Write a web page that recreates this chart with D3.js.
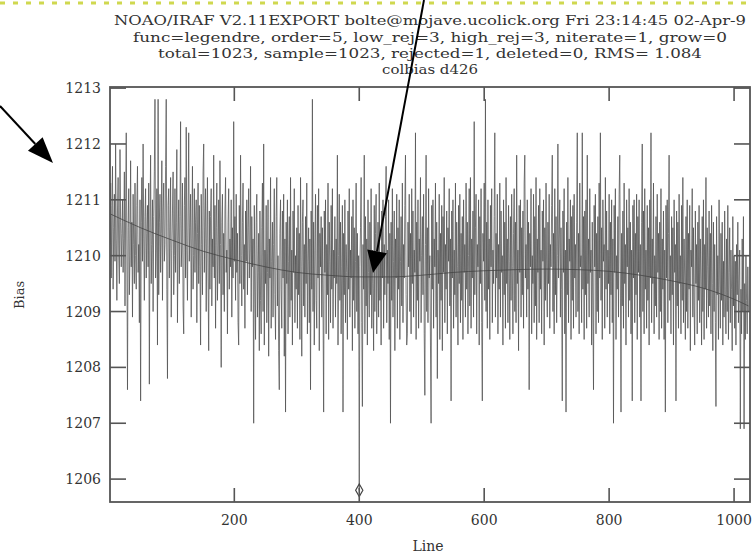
<!DOCTYPE html>
<html>
<head>
<meta charset="utf-8">
<script src="https://cdn.jsdelivr.net/npm/d3@7"></script>
<style>
  html, body { margin: 0; padding: 0; background: #fff; }
  svg { display: block; }
  text { font-family: "DejaVu Serif", "Liberation Serif", serif; fill: #333; }
</style>
</head>
<body>
<svg id="chart" width="754" height="557"></svg>
<script>
// colbias d426: overscan bias level per line, with the legendre fit
const titleLines = [
  "NOAO/IRAF V2.11EXPORT bolte@mojave.ucolick.org Fri 23:14:45 02-Apr-9",
  "func=legendre, order=5, low_rej=3, high_rej=3, niterate=1, grow=0",
  "total=1023, sample=1023, rejected=1, deleted=0, RMS=  1.084",
  "colbias d426"
];
const xTicks = [200, 400, 600, 800, 1000];
const yTicks = [1206, 1207, 1208, 1209, 1210, 1211, 1212, 1213];
const xLabel = "Line";
const yLabel = "Bias";

// bias value of each line, lines 1..1023
const bias = [
1210.2,1211.3,1209.6,1210.9,1211.6,1209.4,1210.5,1211.1,1209.9,1212.0,1210.3,1209.2,1210.8,1211.4,1210.0,1209.5,1211.9,1210.6,1209.8,1210.4,
1211.0,1209.7,1210.3,1211.5,1209.1,1210.8,1212.2,1210.1,1207.6,1210.5,1211.2,1209.3,1210.0,1211.7,1209.8,1210.6,1208.9,1211.1,1210.2,1209.5,
1211.3,1210.0,1209.4,1210.9,1211.6,1209.7,1210.2,1208.8,1211.0,1207.4,1210.6,1211.4,1209.9,1212.0,1210.3,1209.2,1210.7,1211.2,1209.6,1210.4,
1210.9,1209.8,1211.3,1207.7,1210.5,1211.8,1209.5,1210.2,1211.0,1209.0,1210.7,1211.5,1212.8,1209.6,1210.1,1211.2,1208.4,1212.8,1209.3,1210.6,
1211.1,1209.7,1210.4,1211.7,1209.2,1210.8,1211.3,1209.9,1210.2,1211.6,1212.8,1209.4,1207.8,1210.9,1211.2,1209.6,1210.5,1211.4,1208.9,1210.1,
1210.8,1211.5,1209.3,1210.0,1211.2,1209.7,1210.6,1211.9,1208.8,1210.3,1211.0,1209.5,1210.7,1212.4,1209.8,1210.2,1211.3,1209.1,1208.6,1210.9,
1211.4,1209.6,1212.3,1210.1,1209.2,1210.8,1212.2,1209.9,1210.5,1211.1,1208.9,1210.3,1211.6,1209.4,1210.0,1211.2,1209.7,1210.6,1211.0,1208.8,
1210.4,1211.3,1209.5,1210.9,1209.8,1208.4,1211.1,1210.2,1209.3,1211.5,1212.0,1209.7,1210.6,1211.2,1209.0,1210.3,1211.4,1209.6,1208.3,1210.8,
1209.4,1210.7,1211.2,1209.1,1210.3,1209.8,1211.8,1209.6,1210.9,1208.7,1210.5,1211.3,1209.2,1210.0,1211.0,1209.5,1211.7,1210.2,1208.0,1210.6,
1211.1,1209.3,1210.4,1209.0,1210.8,1211.4,1209.7,1210.1,1208.6,1210.6,1211.2,1209.4,1210.3,1209.8,1211.0,1208.9,1210.5,1209.6,1212.4,1209.9,
1210.7,1209.2,1211.1,1209.7,1210.4,1208.8,1208.4,1210.9,1209.5,1211.8,1210.0,1209.1,1210.6,1211.3,1209.4,1210.2,1208.7,1210.8,1209.9,1211.0,
1209.3,1210.5,1211.2,1209.6,1210.1,1211.6,1209.0,1210.7,1209.8,1210.3,1207.0,1210.9,1209.4,1208.5,1210.6,1211.1,1208.9,1209.7,1210.4,1208.3,
1210.8,1209.2,1208.6,1210.5,1211.3,1209.0,1212.0,1208.4,1210.1,1209.5,1210.9,1208.8,1209.7,1211.0,1208.2,1210.3,1209.6,1211.4,1208.7,1209.9,
1210.6,1208.9,1210.2,1211.2,1209.3,1208.5,1210.7,1211.4,1209.1,1210.0,1208.3,1207.6,1210.4,1211.0,1209.4,1208.7,1210.8,1209.6,1211.1,1208.2,
1210.3,1207.2,1210.6,1209.5,1211.0,1208.6,1209.9,1210.7,1208.9,1211.4,1209.2,1210.1,1208.4,1210.8,1209.7,1211.2,1208.8,1210.0,1209.4,1210.5,
1208.7,1210.9,1209.3,1210.4,1208.5,1211.4,1209.8,1208.2,1210.6,1211.0,1209.1,1210.2,1208.9,1210.7,1209.5,1211.3,1208.6,1209.9,1210.5,1208.8,
1210.3,1207.6,1210.8,1209.4,1212.8,1209.0,1210.6,1208.4,1210.1,1211.1,1209.2,1208.7,1210.9,1209.6,1211.2,1208.3,1210.4,1209.8,1210.7,1208.9,
1210.5,1209.1,1207.2,1210.8,1209.7,1211.0,1208.6,1210.2,1209.3,1211.3,1208.5,1210.6,1209.9,1208.8,1210.9,1209.4,1211.2,1208.7,1210.1,1209.6,
1210.7,1208.9,1210.3,1209.5,1211.8,1208.4,1210.0,1211.1,1209.2,1210.6,1208.6,1209.8,1210.9,1207.2,1210.4,1209.3,1211.0,1208.8,1210.2,1209.7,
1208.5,1210.8,1209.4,1211.2,1208.9,1210.1,1209.6,1210.7,1208.3,1211.0,1209.2,1210.5,1208.7,1209.9,1211.3,1209.0,1210.4,1208.6,1210.0,1205.8,
1209.8,1210.5,1211.4,1208.8,1207.3,1210.2,1209.4,1211.8,1208.6,1210.7,1209.1,1210.3,1208.4,1211.0,1209.7,1208.9,1210.6,1209.3,1211.2,1208.7,
1210.1,1209.5,1208.3,1210.9,1209.0,1210.4,1211.1,1208.6,1209.8,1210.6,1208.9,1211.3,1209.2,1210.0,1208.4,1210.8,1209.6,1211.0,1208.7,1210.2,
1209.3,1210.7,1211.6,1208.8,1210.1,1209.5,1211.0,1208.5,1210.4,1207.0,1210.6,1209.2,1211.2,1208.9,1209.9,1210.8,1208.3,1210.3,1209.6,1211.1,
1208.7,1210.5,1209.4,1211.0,1208.5,1209.9,1210.7,1209.1,1211.3,1208.8,1210.2,1209.6,1210.9,1211.8,1209.3,1208.4,1208.6,1210.6,1209.8,1211.1,
1209.0,1210.4,1208.6,1211.2,1209.5,1210.8,1208.9,1210.1,1209.7,1212.2,1208.5,1210.6,1209.2,1211.0,1208.7,1210.3,1209.9,1211.4,1208.8,1210.0,
1210.7,1209.3,1211.1,1208.6,1207.5,1210.2,1211.8,1209.0,1210.5,1208.8,1211.2,1209.6,1210.0,1208.4,1207.0,1210.9,1209.4,1211.0,1208.7,1210.3,
1209.8,1211.3,1208.9,1210.6,1207.8,1210.1,1209.5,1211.1,1208.5,1210.4,1209.2,1210.9,1208.3,1210.7,1209.7,1211.4,1208.8,1210.2,1209.4,1210.8,
1208.6,1210.5,1209.9,1211.2,1209.1,1210.3,1207.4,1210.8,1209.6,1211.0,1208.7,1210.1,1209.3,1211.3,1208.9,1210.6,1209.8,1208.4,1210.9,1209.5,
1211.1,1208.8,1210.4,1209.2,1210.7,1208.5,1211.0,1209.7,1210.2,1208.9,1211.3,1209.4,1210.6,1208.6,1210.0,1211.2,1209.1,1211.4,1208.7,1210.3,
1209.6,1210.8,1208.9,1212.4,1209.3,1210.5,1211.1,1208.6,1210.2,1209.8,1211.0,1208.4,1210.7,1209.5,1211.2,1208.8,1207.4,1210.4,1209.9,1211.3,
1209.2,1212.8,1209.0,1210.6,1208.7,1211.0,1209.4,1210.3,1208.5,1210.9,1209.8,1211.2,1208.8,1210.1,1209.5,1210.7,1212.2,1208.9,1210.4,1209.6,
1211.1,1208.6,1210.2,1209.4,1211.3,1208.9,1210.8,1209.7,1210.0,1208.4,1211.0,1209.3,1210.6,1208.7,1211.4,1209.5,1210.3,1208.8,1210.9,1209.9,
1208.5,1210.7,1209.2,1211.1,1209.8,1208.6,1210.4,1211.2,1209.0,1210.6,1208.8,1211.8,1209.5,1210.1,1208.3,1210.9,1209.7,1211.0,1208.9,1210.5,
1209.3,1210.8,1208.7,1211.3,1211.8,1209.6,1210.2,1208.9,1211.0,1209.4,1210.6,1207.6,1210.4,1209.8,1211.2,1208.6,1210.0,1209.5,1211.1,1208.8,
1210.7,1209.1,1211.4,1208.5,1210.3,1209.7,1210.9,1208.8,1211.2,1209.4,1210.1,1208.6,1210.8,1209.9,1211.0,1208.4,1210.5,1209.2,1211.3,1209.6,
1208.9,1210.6,1209.5,1211.1,1208.7,1210.2,1209.8,1210.9,1211.8,1209.0,1210.4,1208.6,1211.2,1209.3,1210.7,1208.8,1210.0,1212.0,1209.6,1210.3,
1211.0,1208.9,1210.5,1209.4,1207.4,1210.8,1209.7,1211.2,1208.6,1210.1,1207.2,1210.6,1209.3,1211.4,1208.8,1210.3,1209.9,1211.0,1208.5,1210.7,
1209.2,1210.9,1208.7,1211.1,1209.6,1210.2,1208.9,1210.6,1212.2,1209.0,1210.4,1208.6,1211.3,1209.8,1210.0,1208.8,1212.2,1209.4,1210.7,1208.5,
1210.8,1209.3,1211.0,1208.7,1211.8,1209.5,1210.3,1208.9,1211.2,1209.7,1210.1,1208.4,1210.6,1209.1,1207.6,1210.9,1209.8,1211.1,1208.6,1210.4,
1209.0,1210.7,1208.8,1211.3,1209.6,1212.2,1209.2,1210.5,1208.5,1211.0,1209.9,1210.2,1208.7,1211.4,1209.4,1210.8,1208.9,1210.1,1209.5,1211.1,
1208.6,1210.6,1209.3,1211.0,1208.8,1210.3,1207.0,1210.9,1209.7,1211.2,1208.5,1210.0,1209.4,1210.7,1208.9,1211.1,1211.8,1209.6,1207.2,1210.4,
1209.1,1210.8,1208.7,1211.3,1209.5,1210.2,1208.4,1211.0,1209.8,1210.5,1208.9,1211.2,1209.2,1210.6,1208.6,1210.1,1207.4,1210.9,1209.6,1211.0,
1208.8,1210.4,1209.3,1211.1,1208.5,1210.7,1209.7,1211.0,1208.9,1210.2,1207.4,1210.6,1212.0,1209.0,1210.8,1208.6,1211.2,1209.4,1210.1,1208.7,
1210.9,1209.2,1210.5,1208.4,1211.0,1209.6,1212.2,1208.8,1210.3,1209.5,1211.3,1208.6,1210.0,1209.1,1210.7,1208.9,1211.1,1209.7,1210.4,1208.5,
1210.6,1209.0,1211.2,1208.7,1210.3,1209.4,1210.8,1208.5,1210.1,1207.2,1210.9,1209.6,1211.0,1208.8,1210.4,1211.8,1209.2,1210.0,1208.6,1210.7,
1209.3,1210.5,1208.4,1211.0,1209.7,1210.2,1207.4,1210.8,1209.1,1210.6,1208.7,1211.1,1209.5,1210.0,1208.6,1210.9,1209.2,1211.4,1208.8,1210.3,
1209.6,1208.5,1210.7,1209.0,1211.0,1208.7,1210.4,1209.4,1210.9,1208.3,1210.1,1209.8,1211.2,1208.9,1210.5,1209.1,1208.4,1210.8,1209.5,1210.2,
1208.6,1210.6,1209.2,1210.9,1208.8,1210.3,1209.6,1208.4,1210.7,1209.0,1211.0,1208.5,1210.2,1209.4,1211.4,1208.7,1210.5,1209.8,1208.9,1210.8,
1209.1,1210.4,1208.6,1210.9,1209.5,1208.3,1210.6,1209.0,1210.2,1208.8,1207.3,1210.7,1209.3,1210.0,1208.5,1211.0,1209.6,1208.7,1210.4,1209.2,
1210.6,1208.4,1209.9,1208.9,1210.8,1209.3,1208.6,1210.3,1209.0,1210.9,1208.5,1209.7,1210.5,1208.8,1210.1,1209.4,1208.3,1210.7,1209.1,1210.0,
1208.7,1209.9,1208.4,1210.2,1209.3,1210.6,1208.8,1209.6,1210.1,1206.9,1209.4,1208.6,1210.3,1209.0,1210.7,1206.9,1209.5,1208.5,1210.0,1209.2,
1208.6,1209.8,1209.0
];

// legendre (order 5) fit, sampled along the line axis
const fitLines  = [1, 50, 100, 150, 200, 250, 300, 350, 400, 450, 500, 550, 600, 650, 700, 750, 800, 850, 900, 950, 1000, 1023];
const fitValues = [1210.75, 1210.50, 1210.28, 1210.08, 1209.93, 1209.80, 1209.70, 1209.65, 1209.62, 1209.62, 1209.65, 1209.70,
                   1209.73, 1209.75, 1209.76, 1209.75, 1209.72, 1209.65, 1209.55, 1209.42, 1209.22, 1209.10];

// the one rejected point
const rejectedLines  = [400];
const rejectedValues = [1205.8];

const svg = d3.select("#chart");
const W = 754, H = 557;
const plot = { left: 110, right: 750, top: 87, bottom: 502 };

const x = d3.scaleLinear().domain([1, 1025.5]).range([plot.left, plot.right]);
const y = d3.scaleLinear().domain([1205.59, 1213.02]).range([plot.bottom, plot.top]);

// dotted rule along the top edge
svg.append("line")
  .attr("x1", 0).attr("x2", W).attr("y1", 3).attr("y2", 3)
  .attr("stroke", "#cfd84f").attr("stroke-width", 3)
  .attr("stroke-dasharray", "5,8");

// title block
const titleY = [25, 42, 58, 74];
const titleLen = [632, 594, 544, 96];
svg.selectAll("text.title").data(titleLines).join("text")
  .attr("class", "title")
  .attr("x", 430)
  .attr("y", (d, i) => titleY[i])
  .attr("text-anchor", "middle")
  .attr("font-size", 13.5)
  .attr("textLength", (d, i) => titleLen[i])
  .attr("lengthAdjust", "spacingAndGlyphs")
  .text(d => d);

// data
svg.append("clipPath").attr("id", "plotclip")
  .append("rect")
  .attr("x", plot.left).attr("y", plot.top)
  .attr("width", plot.right - plot.left).attr("height", plot.bottom - plot.top);

const g = svg.append("g").attr("clip-path", "url(#plotclip)");

const dataLine = d3.line()
  .x((d, i) => x(i + 1))
  .y(d => y(d));

g.append("path")
  .datum(bias)
  .attr("d", dataLine)
  .attr("fill", "none")
  .attr("stroke", "#505050")
  .attr("stroke-width", 0.75);

const fitLine = d3.line()
  .x(d => x(d[0]))
  .y(d => y(d[1]))
  .curve(d3.curveMonotoneX);

g.append("path")
  .datum(fitLines.map((l, i) => [l, fitValues[i]]))
  .attr("d", fitLine)
  .attr("fill", "none")
  .attr("stroke", "#444")
  .attr("stroke-width", 0.8);

g.selectAll("path.rej").data(rejectedLines).join("path")
  .attr("class", "rej")
  .attr("d", d3.symbol(d3.symbolDiamond, 45))
  .attr("transform", (d, i) => `translate(${x(d)},${y(rejectedValues[i])})`)
  .attr("fill", "none")
  .attr("stroke", "#444")
  .attr("stroke-width", 1.2);

// frame
const frameColor = "#555";
svg.append("rect")
  .attr("x", plot.left).attr("y", plot.top)
  .attr("width", plot.right - plot.left).attr("height", plot.bottom - plot.top)
  .attr("fill", "none").attr("stroke", frameColor).attr("stroke-width", 1.8);

// ticks drawn inward on all four sides
const tickLen = 16;
const axes = svg.append("g").attr("stroke", frameColor).attr("stroke-width", 1.6);
xTicks.forEach(t => {
  axes.append("line").attr("x1", x(t)).attr("x2", x(t)).attr("y1", plot.bottom).attr("y2", plot.bottom - 14);
  axes.append("line").attr("x1", x(t)).attr("x2", x(t)).attr("y1", plot.top).attr("y2", plot.top + 14);
});
yTicks.forEach(t => {
  axes.append("line").attr("x1", plot.left).attr("x2", plot.left + tickLen).attr("y1", y(t)).attr("y2", y(t));
  axes.append("line").attr("x1", plot.right).attr("x2", plot.right - tickLen).attr("y1", y(t)).attr("y2", y(t));
});

// tick labels
svg.selectAll("text.ylab").data(yTicks).join("text")
  .attr("class", "ylab")
  .attr("x", 101)
  .attr("y", d => y(d) + 5)
  .attr("text-anchor", "end")
  .attr("font-size", 14)
  .text(d => d);

svg.selectAll("text.xlab").data(xTicks).join("text")
  .attr("class", "xlab")
  .attr("x", d => x(d))
  .attr("y", 525)
  .attr("text-anchor", "middle")
  .attr("font-size", 14)
  .text(d => d);

svg.append("text")
  .attr("x", 428).attr("y", 551)
  .attr("text-anchor", "middle")
  .attr("font-size", 14)
  .text(xLabel);

svg.append("text")
  .attr("transform", "translate(24,295) rotate(-90)")
  .attr("text-anchor", "middle")
  .attr("font-size", 13)
  .text(yLabel);

// annotation arrows
function arrow(x0, y0, x1, y1, headLen, headHalf) {
  const dx = x1 - x0, dy = y1 - y0, L = Math.hypot(dx, dy);
  const ux = dx / L, uy = dy / L;
  const bx = x1 - ux * headLen, by = y1 - uy * headLen;
  svg.append("line")
    .attr("x1", x0).attr("y1", y0).attr("x2", bx).attr("y2", by)
    .attr("stroke", "#000").attr("stroke-width", 2);
  svg.append("polygon")
    .attr("points", [
      [x1, y1],
      [bx - uy * headHalf, by + ux * headHalf],
      [bx + uy * headHalf, by - ux * headHalf]
    ].map(p => p.join(",")).join(" "))
    .attr("fill", "#000");
}
arrow(0, 106, 53, 163, 26, 10);
arrow(424, 0, 373, 273, 22, 10);
</script>
</body>
</html>
